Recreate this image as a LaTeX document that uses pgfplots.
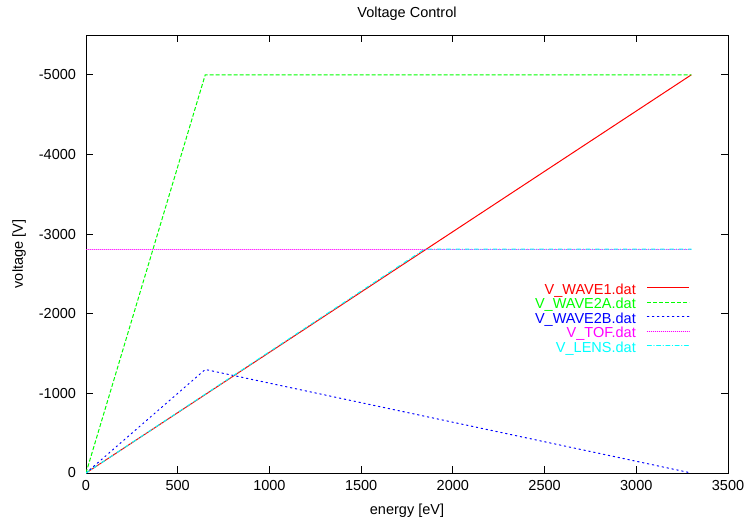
\documentclass[border=0pt]{standalone}
\usepackage{fontspec}
\setmainfont{Liberation Sans}
\usepackage{pgfplots}
\pgfplotsset{compat=1.18}
\definecolor{cred}{RGB}{255,0,0}
\definecolor{cgreen}{RGB}{0,255,0}
\definecolor{cblue}{RGB}{0,0,255}
\definecolor{cmag}{RGB}{255,0,255}
\definecolor{ccyan}{RGB}{0,255,255}
\begin{document}
\fontsize{14.5bp}{16bp}\selectfont
\begin{tikzpicture}
\path[use as bounding box] (0bp,0bp) rectangle (747bp,522bp);
\begin{axis}[
  at={(86bp,49bp)}, anchor=south west,
  scale only axis, width=642bp, height=438bp,
  xmin=0, xmax=3500, ymin=-5500, ymax=0,
  y dir=reverse,
  xtick={0,500,...,3500},
  ytick={-5000,-4000,-3000,-2000,-1000,0},
  tick align=inside,
  major tick length=7bp,
  minor tick num=0,
  axis line style={line width=0.9bp},
  every tick/.style={line width=0.9bp, black},
  /pgf/number format/assume math mode=true,
  /pgf/number format/1000 sep={},
  scaled ticks=false,
  tick label style={font=\fontsize{14.5bp}{16bp}\selectfont},
  xticklabel style={yshift=-2bp},
  yticklabel style={xshift=-5bp},
  title={Voltage Control},
  title style={at={(axis description cs:0.5,1.0343)}, anchor=center, font=\fontsize{14.5bp}{16bp}\selectfont},
  xlabel={energy [eV]},
  xlabel style={at={(axis description cs:0.5,-0.087)}, anchor=center, font=\fontsize{14.5bp}{16bp}\selectfont},
  ylabel={voltage [V]},
  ylabel style={at={(axis description cs:-0.104,0.5)}, anchor=center, rotate=0, font=\fontsize{14.5bp}{16bp}\selectfont},
  legend style={draw=none, fill=none, inner sep=0pt,
    at={(axis description cs:0.9408,0.4315)}, anchor=north east,
    font=\fontsize{14.5bp}{16bp}\selectfont,
    nodes={inner sep=0pt, text height=10bp, text depth=4.5bp},
    row sep=0pt, column sep=11bp},
  legend cell align=right,
  legend plot pos=right,
  legend image code/.code={\draw[#1] (0bp,3.5bp) -- (42bp,3.5bp);},
  every axis plot/.append style={line width=1bp},
]
\addplot[draw=cred, solid] coordinates {(0,0) (3300,-5000)};
\addlegendentry[text=cred]{V\_WAVE1.dat}
\addplot[draw=cgreen, dash pattern=on 4bp off 2bp] coordinates {(0,0) (650,-5000) (3300,-5000)};
\addlegendentry[text=cgreen]{V\_WAVE2A.dat}
\addplot[draw=cblue, line cap=round, dash pattern=on 1.5bp off 3.5bp] coordinates {(0,0) (650,-1300) (3300,0)};
\addlegendentry[text=cblue]{V\_WAVE2B.dat}
\addplot[draw=cmag, line cap=round, dash pattern=on 0.3bp off 1.7bp] coordinates {(0,-2810) (3300,-2810)};
\addlegendentry[text=cmag]{V\_TOF.dat}
\addplot[draw=ccyan, line cap=round, dash pattern=on 4bp off 2.5bp on 0.3bp off 2.5bp] coordinates {(0,0) (1845,-2810) (3300,-2810)};
\addlegendentry[text=ccyan]{V\_LENS.dat}
\end{axis}
\end{tikzpicture}
\end{document}
